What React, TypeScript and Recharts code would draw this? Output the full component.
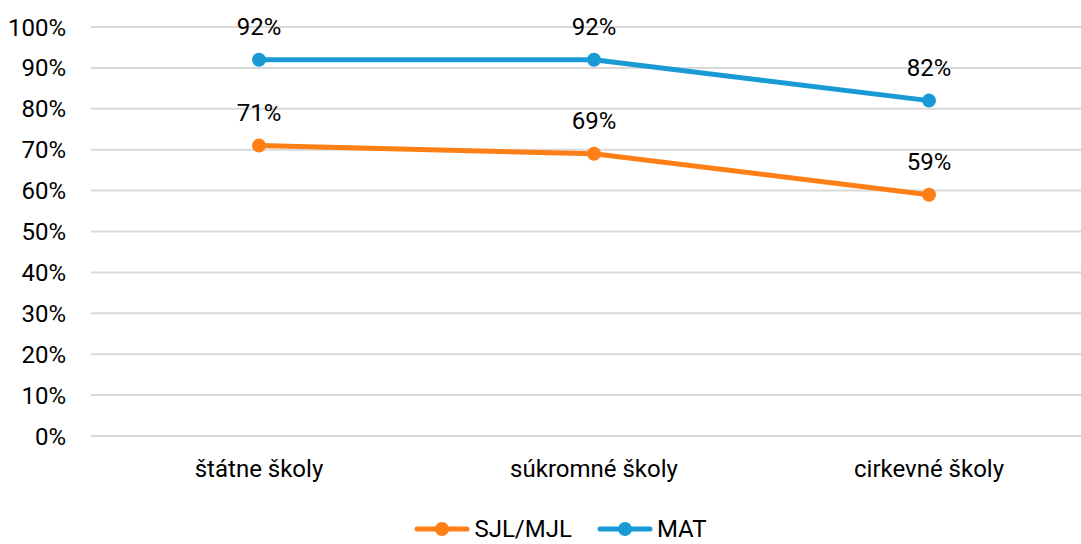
import React from 'react';
import { LineChart, Line, XAxis, YAxis, CartesianGrid, Legend, LabelList } from 'recharts';

const categories = ['štátne školy', 'súkromné školy', 'cirkevné školy'];
const sjlValues = [71, 69, 59];
const matValues = [92, 92, 82];
const yTicks = [0, 10, 20, 30, 40, 50, 60, 70, 80, 90, 100];

const ORANGE = '#FF7F17';
const BLUE = '#1A9AD5';

const data = categories.map((c, i) => ({ name: c, sjl: sjlValues[i], mat: matValues[i] }));

const legendItems = [
  { label: 'SJL/MJL', color: ORANGE },
  { label: 'MAT', color: BLUE },
];

const CustomLegend = () => (
  <div style={{ display: 'flex', justifyContent: 'center', alignItems: 'center', height: 20, fontFamily: 'Roboto', fontSize: 24, color: '#000' }}>
    {legendItems.map((it, i) => (
      <div key={it.label} style={{ display: 'flex', alignItems: 'center', marginLeft: i === 0 ? 0 : 25, height: 20 }}>
        <svg width={56} height={20} style={{ display: 'block' }}>
          <line x1={3} y1={10} x2={53} y2={10} stroke={it.color} strokeWidth={5} strokeLinecap="round" />
          <circle cx={28} cy={10} r={7} fill={it.color} />
        </svg>
        <span style={{ marginLeft: 4, lineHeight: '20px', height: 20 }}>{it.label}</span>
      </div>
    ))}
  </div>
);

export default function App() {
  return (
    <div style={{ position: 'absolute', left: 0, top: 0, width: 1081, height: 544, overflow: 'hidden', background: '#fff', fontFamily: 'Roboto' }}>
      <LineChart
        width={1096}
        height={544}
        data={data}
        margin={{ top: 27, right: 0, left: 0, bottom: 48 }}
        style={{ fontFamily: 'Roboto' }}
      >
        <CartesianGrid horizontal vertical={false} stroke="#d9d9d9" strokeWidth={2} />
        <XAxis
          dataKey="name"
          height={60}
          axisLine={false}
          tickLine={false}
          tickMargin={18}
          padding={{ left: 168, right: 167 }}
          tick={{ fill: '#000', fontSize: 24 }}
        />
        <YAxis
          width={91}
          domain={[0, 100]}
          ticks={yTicks}
          interval={0}
          axisLine={false}
          tickLine={false}
          tickMargin={19}
          tickFormatter={(v) => `${v}%`}
          tick={{ fill: '#000', fontSize: 24 }}
        />
        <Legend
          layout="horizontal"
          verticalAlign="middle"
          align="center"
          content={<CustomLegend />}
          wrapperStyle={{ position: 'absolute', top: 519, left: 20, width: 1081, height: 20 }}
        />
        <Line
          type="linear"
          dataKey="sjl"
          name="SJL/MJL"
          stroke={ORANGE}
          strokeWidth={5}
          dot={{ r: 7, fill: ORANGE, stroke: ORANGE, strokeWidth: 0 }}
          isAnimationActive={false}
        >
          <LabelList dataKey="sjl" position="top" offset={25} formatter={(v) => `${v}%`} style={{ fill: '#000', fontSize: 24 }} />
        </Line>
        <Line
          type="linear"
          dataKey="mat"
          name="MAT"
          stroke={BLUE}
          strokeWidth={5}
          dot={{ r: 7, fill: BLUE, stroke: BLUE, strokeWidth: 0 }}
          isAnimationActive={false}
        >
          <LabelList dataKey="mat" position="top" offset={25} formatter={(v) => `${v}%`} style={{ fill: '#000', fontSize: 24 }} />
        </Line>
      </LineChart>
    </div>
  );
}
